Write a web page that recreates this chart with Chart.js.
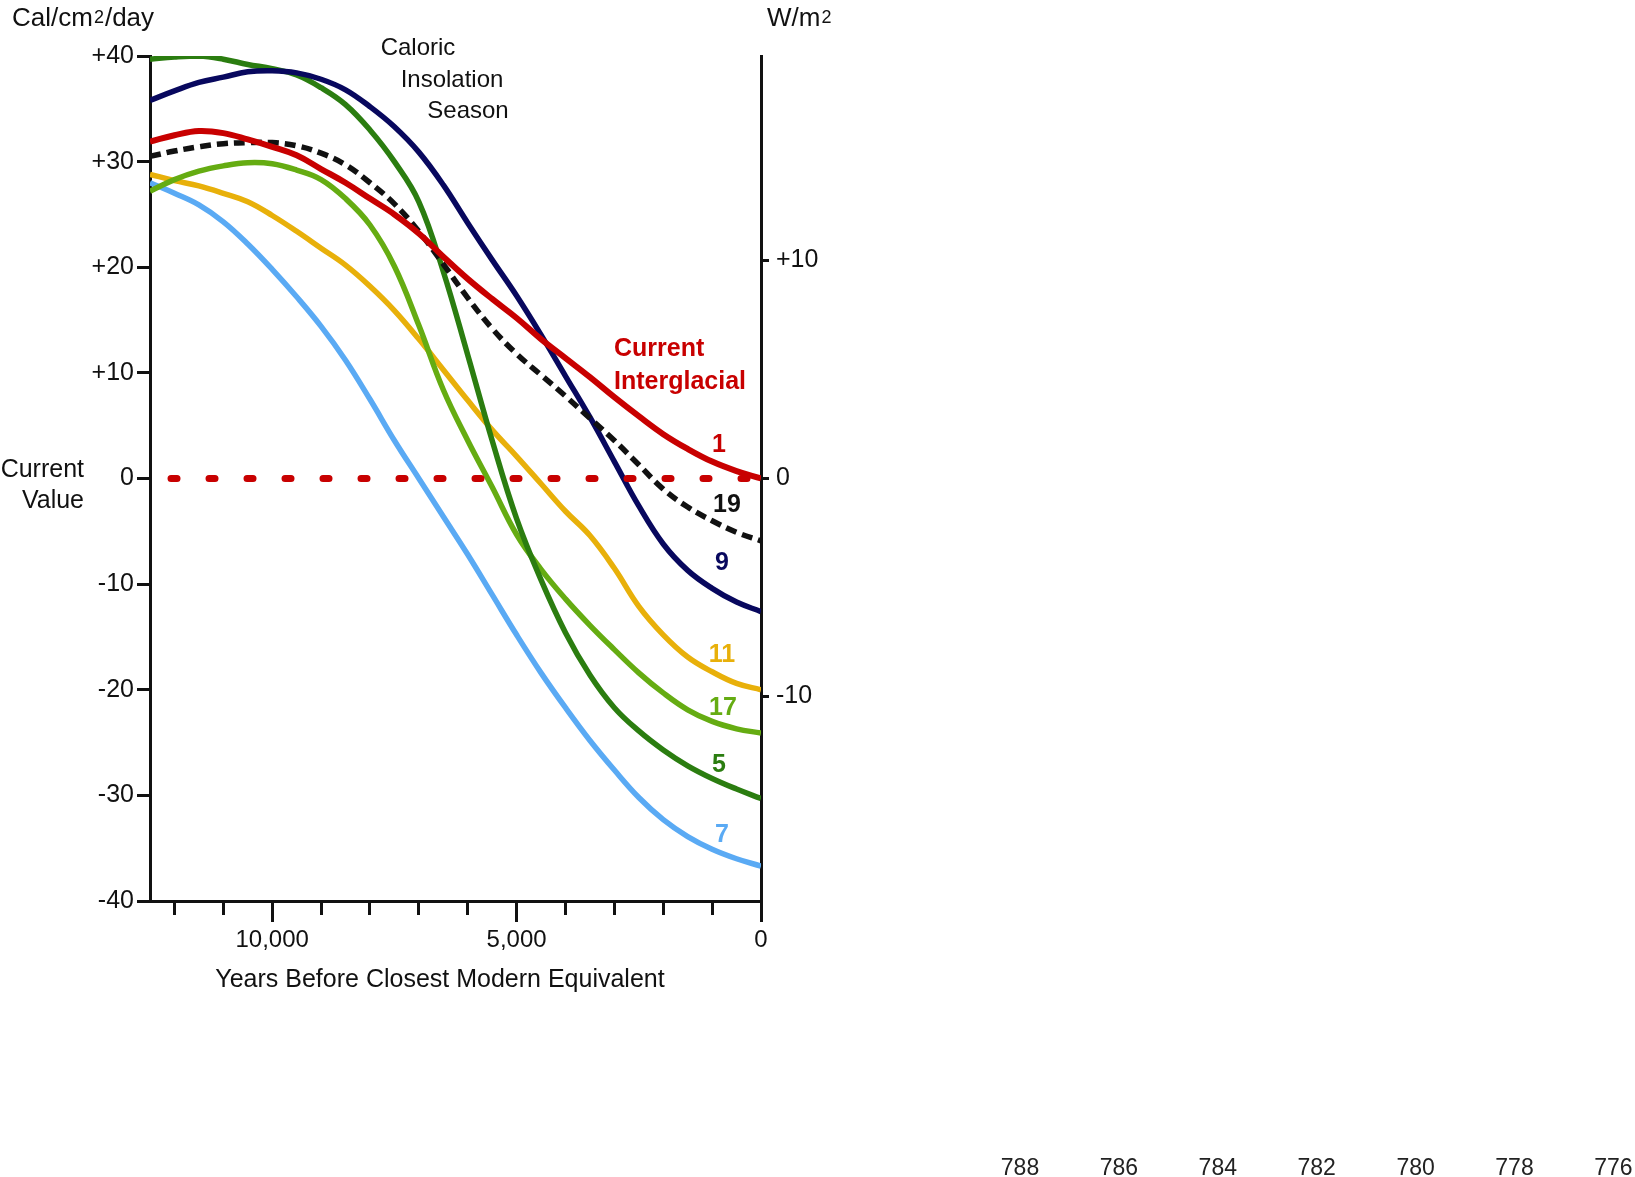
<!DOCTYPE html>
<html>
<head>
<meta charset="utf-8">
<script src="https://cdn.jsdelivr.net/npm/chart.js@4.4.1/dist/chart.umd.min.js"></script>
<style>
html,body{margin:0;padding:0;background:#fff;}
#wrap{width:1635px;height:1177px;position:relative;background:#fff;}
</style>
</head>
<body>
<div id="wrap"><canvas id="c" width="1635" height="1177"></canvas></div>
<script>
// ---------- data ----------
const years = [12500,12000,11500,11000,10500,10000,9500,9000,8500,8000,7500,7000,6500,6000,5500,5000,4500,4000,3500,3000,2500,2000,1500,1000,500,0];

const interglacial1  = [31.9,32.5,32.9,32.7,32.1,31.4,30.6,29.3,28.0,26.5,25.0,23.2,21.0,18.9,17.0,15.2,13.2,11.4,9.6,7.7,5.9,4.2,2.8,1.6,0.7,0.0];
const interglacial19 = [30.5,31.0,31.4,31.7,31.8,31.8,31.5,30.8,29.7,28.0,26.0,23.4,20.3,17.1,14.2,11.8,9.8,7.8,5.7,3.6,1.3,-1.0,-2.7,-4.0,-5.1,-5.9];
const interglacial9  = [35.8,36.7,37.5,38.0,38.5,38.6,38.4,37.8,36.8,35.2,33.3,30.9,27.8,24.2,20.7,17.3,13.6,9.7,5.8,1.6,-2.6,-6.2,-8.7,-10.4,-11.7,-12.6];
const interglacial5  = [39.7,39.9,40.0,39.7,39.2,38.8,38.2,37.0,35.4,33.0,30.0,26.2,19.6,11.7,3.6,-3.8,-9.6,-14.6,-18.6,-21.7,-23.9,-25.7,-27.2,-28.4,-29.4,-30.3];
const interglacial17 = [27.2,28.3,29.1,29.6,29.9,29.8,29.2,28.3,26.5,24.0,20.1,14.5,8.4,3.6,-0.8,-5.3,-8.6,-11.4,-13.9,-16.2,-18.4,-20.3,-21.9,-23.0,-23.7,-24.1];
const interglacial11 = [28.8,28.2,27.7,27.0,26.2,24.9,23.4,21.8,20.2,18.2,15.9,13.2,10.3,7.4,4.6,2.1,-0.5,-3.1,-5.4,-8.5,-12.1,-14.8,-16.9,-18.3,-19.4,-20.0];
const interglacial7  = [28.0,27.0,25.9,24.3,22.2,19.8,17.2,14.4,11.2,7.5,3.6,0.0,-3.6,-7.2,-11.0,-14.8,-18.4,-21.7,-24.8,-27.6,-30.2,-32.3,-33.9,-35.1,-36.0,-36.7];

// current value reference line (dotted red)
const currentYears  = [12070, 0];
const currentValues = [0, 0];

// tick values / labels
const calTicks        = [-40,-30,-20,-10,0,10,20,30,40];
const wm2Ticks        = [-10, 0, 10];
const majorYearTicks  = [0, 5000, 10000];
const minorYearTicks  = [0,1000,2000,3000,4000,5000,6000,7000,8000,9000,10000,11000,12000];
const strayTickLabels = ['788','786','784','782','780','778','776'];

const seriesLabels = ['1','19','9','11','17','5','7'];

const CAL_TO_WM2 = 0.4843;

// ---------- chart ----------
const FONT = "'Liberation Sans', Arial, Helvetica, sans-serif";
const C = {
  red:'#c80000', black:'#111111', navy:'#08085e', dgreen:'#2b7d10',
  lgreen:'#65ac12', orange:'#e8b00a', lblue:'#5aaaf4'
};
const pts = (xs, ys) => xs.map((x, i) => ({x, y: ys[i]}));

function line(label, values, color, extra) {
  return Object.assign({
    label, data: pts(years, values), borderColor: color, borderWidth: 5.5,
    pointRadius: 0, fill: false, tension: 0.4, borderCapStyle: 'butt'
  }, extra || {});
}

const datasets = [
  {label:'Current Value', data: pts(currentYears, currentValues), borderColor: C.red,
   borderWidth: 7, borderDash: [6, 32], borderCapStyle: 'round', pointRadius: 0, fill: false},
  line('1',  interglacial1,  C.red, {borderWidth: 6}),
  line('19', interglacial19, C.black, {borderDash:[11, 6]}),
  line('9',  interglacial9,  C.navy),
  line('5',  interglacial5,  C.dgreen),
  line('17', interglacial17, C.lgreen),
  line('11', interglacial11, C.orange),
  line('7',  interglacial7,  C.lblue)
];

function drawSup(ctx, base, sup, x, y, size) {
  ctx.font = size + 'px ' + FONT;
  ctx.fillText(base[0], x, y);
  const w = ctx.measureText(base[0]).width;
  ctx.font = '18px ' + FONT;
  ctx.fillText(sup, x + w + 1, y - 3);
  const ws = ctx.measureText(sup).width;
  if (base[1]) {
    ctx.font = size + 'px ' + FONT;
    ctx.fillText(base[1], x + w + ws + 2, y);
  }
}

const textPlugin = {
  id: 'texts',
  beforeDraw(chart) {
    const ctx = chart.ctx;
    ctx.save();
    ctx.fillStyle = '#fff';
    ctx.fillRect(0, 0, chart.width, chart.height);
    ctx.restore();
  },
  afterDraw(chart) {
    const ctx = chart.ctx;
    ctx.save();
    ctx.fillStyle = '#111';
    ctx.textBaseline = 'alphabetic';
    ctx.textAlign = 'left';
    // unit labels
    drawSup(ctx, ['Cal/cm', '/day'], '2', 12, 26, 26);
    drawSup(ctx, ['W/m', ''], '2', 767, 26, 26);
    // season note
    ctx.font = '24px ' + FONT;
    ctx.textAlign = 'center';
    ctx.fillText('Caloric', 418, 55);
    ctx.fillText('Insolation', 452, 87);
    ctx.fillText('Season', 468, 118);
    // current value
    ctx.font = '25px ' + FONT;
    ctx.textAlign = 'right';
    ctx.fillText('Current', 84, 477);
    ctx.fillText('Value', 84, 508);
    // x axis title
    ctx.textAlign = 'center';
    ctx.fillText('Years Before Closest Modern Equivalent', 440, 987);
    // current interglacial
    ctx.fillStyle = C.red;
    ctx.font = 'bold 25px ' + FONT;
    ctx.textAlign = 'left';
    ctx.fillText('Current', 614, 356);
    ctx.fillText('Interglacial', 614, 389);
    // series number labels
    const lab = [
      [seriesLabels[0], C.red,    719, 452],
      [seriesLabels[1], C.black,  727, 512],
      [seriesLabels[2], C.navy,   722, 570],
      [seriesLabels[3], C.orange, 722, 662],
      [seriesLabels[4], C.lgreen, 723, 715],
      [seriesLabels[5], C.dgreen, 719, 772],
      [seriesLabels[6], C.lblue,  722, 842]
    ];
    ctx.textAlign = 'center';
    ctx.font = 'bold 25px ' + FONT;
    lab.forEach(([t, col, x, y]) => { ctx.fillStyle = col; ctx.fillText(t, x, y); });
    // stray tick labels at bottom right
    ctx.fillStyle = '#222';
    ctx.font = '23px ' + FONT;
    strayTickLabels.forEach((t, i) => ctx.fillText(t, 1020 + i * 98.9, 1175));
    ctx.restore();
  }
};

const tickFont = {family: FONT, size: 25};

new Chart(document.getElementById('c'), {
  type: 'line',
  data: {datasets},
  options: {
    responsive: false,
    animation: false,
    devicePixelRatio: 1,
    layout: {padding: {top: 56, left: 0, right: 0, bottom: 0}},
    plugins: {legend: {display: false}, tooltip: {enabled: false}},
    scales: {
      x: {
        type: 'linear', axis: 'x', position: 'bottom', reverse: true, min: 0, max: 12500,
        afterFit(s) { s.height = 276; },
        afterBuildTicks(s) { s.ticks = majorYearTicks.map(v => ({value: v})); },
        grid: {drawOnChartArea: false, drawTicks: true, tickLength: 21, tickWidth: 3, tickColor: '#111'},
        border: {display: true, color: '#111', width: 3},
        ticks: {autoSkip: false, maxRotation: 0, padding: 4, color: '#111', font: {family: FONT, size: 24},
                callback: v => Number(v).toLocaleString('en-US')}
      },
      xm: {
        type: 'linear', axis: 'x', position: {y: -40}, reverse: true, min: 0, max: 12500,
        afterBuildTicks(s) { s.ticks = minorYearTicks.map(v => ({value: v})); },
        grid: {drawOnChartArea: false, drawTicks: true, tickLength: 14, tickWidth: 3, tickColor: '#111'},
        border: {display: false},
        ticks: {autoSkip: false, maxRotation: 0, callback: () => ''}
      },
      y: {
        type: 'linear', axis: 'y', position: 'left', min: -40, max: 40,
        afterFit(s) { s.width = 150; },
        afterBuildTicks(s) { s.ticks = calTicks.map(v => ({value: v})); },
        grid: {drawOnChartArea: false, drawTicks: true, tickLength: 13, tickWidth: 3, tickColor: '#111'},
        border: {display: true, color: '#111', width: 3},
        ticks: {padding: 3, color: '#111', font: tickFont,
                callback: v => (v > 0 ? '+' + v : String(v))}
      },
      y2: {
        type: 'linear', axis: 'y', position: 'right',
        min: -40 * CAL_TO_WM2, max: 40 * CAL_TO_WM2,
        afterFit(s) { s.width = 874; },
        afterBuildTicks(s) { s.ticks = wm2Ticks.map(v => ({value: v})); },
        grid: {drawOnChartArea: false, drawTicks: true, tickLength: 8, tickWidth: 3, tickColor: '#111'},
        border: {display: true, color: '#111', width: 3},
        ticks: {padding: 7, color: '#111', font: tickFont,
                callback: v => (v > 0 ? '+' + v : String(v))}
      }
    }
  },
  plugins: [textPlugin]
});
</script>
</body>
</html>
